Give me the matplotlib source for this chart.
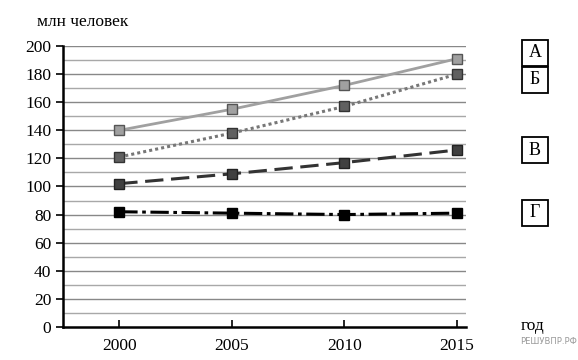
import matplotlib.pyplot as plt
from matplotlib.patches import Rectangle

plt.rcParams['font.family'] = ['Liberation Serif', 'DejaVu Serif']

years = [2000, 2005, 2010, 2015]
a_vals = [140, 155, 172, 191]
b_vals = [121, 138, 157, 180]
v_vals = [102, 109, 117, 126]
g_vals = [82, 81, 80, 81]
labels = ['А', 'Б', 'В', 'Г']

fig = plt.figure(figsize=(5.78, 3.6), dpi=100)
ax = fig.add_axes([0.109, 0.092, 0.697, 0.78])

ax.set_xlim(1997.5, 2015.4)
ax.set_ylim(0, 200)

# сетка
for y in range(10, 201, 10):
    ax.axhline(y, color='#888888' if y % 20 == 0 else '#a8a8a8', lw=1.0, zorder=1)

ax.plot(years, a_vals, color='#a0a0a0', lw=2, marker='s', ms=7,
        mfc='#a0a0a0', mec='#555555', zorder=3)
ax.plot(years, b_vals, color='#777777', lw=2.2, ls=(0, (1, 1)), marker='s', ms=7,
        mfc='#606060', mec='#333333', zorder=3)
ax.plot(years, v_vals, color='#333333', lw=2.2, ls=(0, (6, 2.5)), marker='s', ms=7,
        mfc='#404040', mec='#222222', zorder=3)
ax.plot(years, g_vals, color='black', lw=2.2, ls=(0, (6, 1.5, 1.2, 1.5)), marker='s', ms=7,
        mfc='black', mec='black', zorder=3)

for s in ['top', 'right']:
    ax.spines[s].set_visible(False)
ax.spines['left'].set_linewidth(1.8)
ax.spines['bottom'].set_linewidth(1.8)

ax.set_yticks(range(0, 201, 20))
ax.set_xticks(years)
ax.tick_params(axis='y', direction='out', length=5, width=1.2, labelsize=12.5)
ax.tick_params(axis='x', direction='in', length=5, width=1.2, labelsize=12.5, pad=8)

fig.text(0.064, 0.94, 'млн человек', fontsize=12.5, va='center')
fig.text(0.900, 0.095, 'год', fontsize=12.5, va='center')
fig.text(0.998, 0.052, 'РЕШУВПР.РФ', fontsize=6, color='#999999', va='center',
         ha='right', family='DejaVu Sans')

# подписи линий в рамках
label_y = [52.5, 80, 150, 212.5]
bw, bh = 26 / 578, 26 / 360
for lab, py in zip(labels, label_y):
    cx, cy = 535 / 578, 1 - py / 360
    fig.patches.append(Rectangle((cx - bw / 2, cy - bh / 2), bw, bh, transform=fig.transFigure,
                                 fc='white', ec='black', lw=1.3))
    fig.text(cx, cy, lab, fontsize=13, ha='center', va='center')

fig.savefig('out.png', dpi=100)
